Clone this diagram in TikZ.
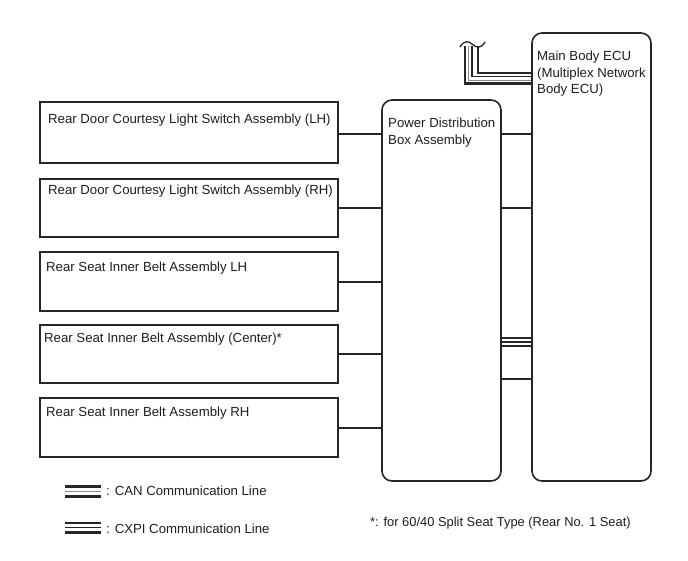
\documentclass[tikz,border=0pt]{standalone}
\usepackage{fontspec}
\setmainfont{Liberation Sans}
\definecolor{ln}{HTML}{262626}
\definecolor{mid}{HTML}{8A8A8A}
\definecolor{tx}{HTML}{1E1E1E}
\begin{document}
\begin{tikzpicture}[x=1pt,y=-1pt,
  lbox/.style={draw=ln,line width=1.6pt,minimum width=298pt,inner sep=0pt},
  rbox/.style={draw=ln,line width=1.6pt,rounded corners=10pt,minimum width=119pt,inner sep=0pt},
  lab/.style={text=tx,font=\fontsize{13.2}{16.5}\selectfont,inner sep=0pt,align=left},
  wire/.style={draw=ln,line width=1.5pt},
  thick wire/.style={draw=ln,line width=2.8pt},
  gray wire/.style={draw=mid,line width=0.9pt}]
\useasboundingbox (0,0) rectangle (688,560);
% left boxes
\node[lbox,minimum height=61pt] (b1) at (189,132.5) {};
\node[lbox,minimum height=58pt] (b2) at (189,208) {};
\node[lbox,minimum height=59pt] (b3) at (189,281.5) {};
\node[lbox,minimum height=58pt] (b4) at (189,354) {};
\node[lbox,minimum height=59pt] (b5) at (189,427.5) {};
\node[lab,anchor=west] (t1) at (48,120.5) {Rear Door Courtesy Light Switch Assembly (LH)};
\node[lab,anchor=west] (t2) at (48,191.5) {Rear Door Courtesy Light Switch Assembly (RH)};
\node[lab,anchor=west] (t3) at (46,268.5) {Rear Seat Inner Belt Assembly LH};
\node[lab,anchor=west] (t4) at (44,339.5) {Rear Seat Inner Belt Assembly (Center)*};
\node[lab,anchor=west] (t5) at (46,413.5) {Rear Seat Inner Belt Assembly RH};
% right boxes
\node[rbox,minimum height=381pt] (pdb) at (441.5,290.5) {};
\node[rbox,minimum height=448pt] (ecu) at (591.5,257) {};
\node[lab,anchor=north west] (tp) at (388,118) {Power Distribution\\Box Assembly};
\node[lab,anchor=north west] (te) at (537,51) {Main Body ECU\\(Multiplex Network\\Body ECU)};
% connectors left -> PDB
\coordinate (k1) at ([yshift=-1.5pt]b1.east);
\coordinate (k2) at (b2.east);
\coordinate (k3) at ([yshift=-0.5pt]b3.east);
\coordinate (k4) at (b4.east);
\coordinate (k5) at ([yshift=-0.5pt]b5.east);
\foreach \k in {k1,k2,k3,k4,k5}
  \draw[wire] (\k) -- (\k -| pdb.west);
% PDB -> ECU
\draw[wire] (pdb.east |- k1) -- (ecu.west |- k1);
\draw[wire] (pdb.east |- k2) -- (ecu.west |- k2);
\coordinate (x1) at (501,338);
\coordinate (x2) at (501,342);
\coordinate (x3) at (501,346);
\coordinate (x4) at (501,379);
\draw[wire] (x1) -- (x1 -| ecu.west);
\draw[wire] (x2) -- (x2 -| ecu.west);
\draw[wire] (x3) -- (x3 -| ecu.west);
\draw[wire] (x4) -- (x4 -| ecu.west);
% top bus into ECU
\coordinate (v0) at (478,46);
\coordinate (va) at (465,46);
\coordinate (vb) at (468.5,46);
\coordinate (vc) at (472,46);
\draw[thick wire] (v0) |- (ecu.west |- 0,73);
\draw[wire,line width=2.4pt] (va) |- (ecu.west |- 0,83.5);
\draw[gray wire] (vb) |- (ecu.west |- 0,80);
\draw[wire,line width=1.7pt] (vc) |- (ecu.west |- 0,76.5);
\draw[ln,line width=1.3pt] (460,47) .. controls (464,40) and (469,41) .. (472,44)
  .. controls (476,48) and (481,49) .. (485,42);
% legend
\coordinate (ca1) at (65,486.5);
\coordinate (cb1) at (101,486.5);
\coordinate (ca2) at (65,491);
\coordinate (cb2) at (101,491);
\coordinate (ca3) at (65,496.5);
\coordinate (cb3) at (101,496.5);
\draw[line width=3pt,ln] (ca1) -- (cb1);
\draw[gray wire] (ca2) -- (cb2);
\draw[line width=3pt,ln] (ca3) -- (cb3);
\node[lab,anchor=west] (lc) at (106,491) {: CAN Communication Line};
\coordinate (xa1) at (65,523);
\coordinate (xb1) at (101,523);
\coordinate (xa2) at (65,527.5);
\coordinate (xb2) at (101,527.5);
\coordinate (xa3) at (65,532.5);
\coordinate (xb3) at (101,532.5);
\draw[wire] (xa1) -- (xb1);
\draw[wire,line width=1.7pt] (xa2) -- (xb2);
\draw[wire,line width=2.1pt] (xa3) -- (xb3);
\node[lab,anchor=west] (lx) at (106,529) {: CXPI Communication Line};
\node[lab,anchor=west,font=\fontsize{12.9}{16}\selectfont] (fn) at (370,523) {*: for 60/40 Split Seat Type (Rear No. 1 Seat)};
\end{tikzpicture}
\end{document}
